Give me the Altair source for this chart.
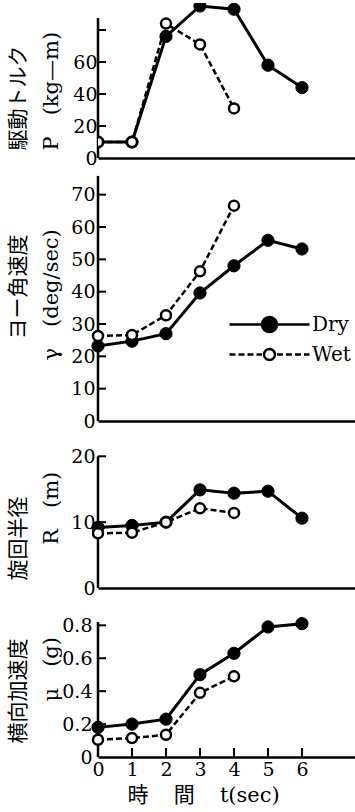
import altair as alt
import pandas as pd

# ---------------- data ----------------
T_DRY = [0, 1, 2, 3, 4, 5, 6]
T_WET = [0, 1, 2, 3, 4]
CONDITIONS = ["Dry", "Wet"]

TORQUE_DRY = [10, 10, 76, 95, 93, 58, 44]
TORQUE_WET = [10, 10, 84, 71, 31]
YAW_DRY = [23.2, 24.7, 27.0, 39.6, 48.0, 55.9, 53.2]
YAW_WET = [26.3, 26.6, 32.7, 46.3, 66.6]
RADIUS_DRY = [9.2, 9.5, 10.0, 14.9, 14.4, 14.7, 10.6]
RADIUS_WET = [8.3, 8.4, 10.0, 12.1, 11.4]
LATACC_DRY = [0.18, 0.20, 0.23, 0.50, 0.63, 0.79, 0.81]
LATACC_WET = [0.105, 0.115, 0.135, 0.39, 0.49]

X_LABELS = [0, 1, 2, 3, 4, 5, 6]
X_TICKS = [1, 2, 3, 4, 5, 6]
TORQUE_LABELS = [0, 20, 40, 60]
TORQUE_TICKS = [20, 40, 60, 80]
YAW_LABELS = [0, 10, 20, 30, 40, 50, 60, 70]
YAW_TICKS = [10, 20, 30, 40, 50, 60, 70]
RADIUS_LABELS = [0, 10, 20]
RADIUS_TICKS = [10, 20]
LATACC_LABELS = [0, 0.2, 0.4, 0.6, 0.8]
LATACC_TICKS = [0.2, 0.4, 0.6, 0.8]

# (a zero-width space keeps the leading em spaces from being trimmed)
ZW = "\u200b"
TORQUE_TITLE = ["駆動トルク", "P\u2003(kg—m)"]
YAW_TITLE = [ZW + "\u2003ヨー角速度", "γ\u2003(deg/sec)"]
RADIUS_TITLE = ["旋回半径", ZW + "\u2003\u2002\u2009R\u2003(m)"]
LATACC_TITLE = ["横向加速度", ZW + "\u2003\u2003μ\u2003(g)"]
X_TITLE = "時\u2003\u2009間\u2003\u2009t(sec)"

# ---------------- styling ----------------
NUM_FONT = "DejaVu Serif"
TITLE_FONT = "DejaVu Serif, Noto Sans CJK JP"
W = 257
X_SCALE = alt.Scale(domain=[0, 7.56], nice=False, zero=False)


def dash_path(a, b, dash=0.6, gap=0.3):
    parts = []
    x = a
    while x < b - 1e-9:
        e = min(x + dash, b)
        parts.append(f"M{x:.2f},0H{e:.2f}")
        x = e + gap
    return "".join(parts)


def circle_path(r):
    return f"M{-r},0A{r},{r},0,1,1,{r},0A{r},{r},0,1,1,{-r},0Z"


DRY_SYMBOL = "M-4.0,0H4.0" + circle_path(0.75)
WET_SYMBOL = dash_path(-4.0, -0.75) + dash_path(0.75, 4.0) + circle_path(0.55)


def panel(dry, wet, *, height, y_max, axis_top, labels, ticks, title, title_y,
          fmt, label_pad=2, bottom=False, clip=False, legend=False):
    ys = alt.Scale(domain=[0, y_max], nice=False, zero=True)
    yaxis = alt.Axis(values=labels, format=fmt, title=title, titleX=-91,
                     titleY=title_y, titleAlign="left", titleBaseline="top",
                     titleAngle=270, titleLineHeight=33, domain=False,
                     ticks=False, tickSize=0, grid=False,
                     labelPadding=label_pad)
    if bottom:
        xaxis = alt.Axis(values=X_LABELS, format="d", title=X_TITLE, titleX=29,
                         titleY=38, titleAlign="left", titleBaseline="middle",
                         titleAngle=0, ticks=False, tickSize=0, labelPadding=3,
                         grid=False, labelFlush=False)
    else:
        xaxis = alt.Axis(labels=False, ticks=False, tickSize=0, title=None,
                         grid=False)

    def xq(f):
        return alt.X(f"{f}:Q", scale=X_SCALE, axis=xaxis)

    def yq(f):
        return alt.Y(f"{f}:Q", scale=ys, axis=yaxis)

    dry_df = pd.DataFrame({"t": T_DRY, "v": dry})
    wet_df = pd.DataFrame({"t": T_WET, "v": wet})
    base_d = alt.Chart(dry_df).encode(x=xq("t"), y=yq("v"))
    base_w = alt.Chart(wet_df).encode(x=xq("t"), y=yq("v"))

    layers = [
        alt.Chart(pd.DataFrame({"lo": [0], "hi": [axis_top]}))
        .mark_rule(color="black", strokeWidth=2.5)
        .encode(x=alt.value(0), y=yq("lo"), y2="hi:Q"),
        alt.Chart(pd.DataFrame({"v": ticks}))
        .mark_rule(color="black", strokeWidth=2)
        .encode(y=yq("v"), x=alt.value(0), x2=alt.value(8)),
    ]
    if bottom:
        layers.append(
            alt.Chart(pd.DataFrame({"t": X_TICKS}))
            .mark_rule(color="black", strokeWidth=2)
            .encode(x=xq("t"), y=alt.value(height), y2=alt.value(height - 9))
        )
    layers += [
        base_d.mark_line(color="black", strokeWidth=3),
        base_w.mark_line(color="black", strokeWidth=2.5, strokeDash=[6, 3]),
        base_d.mark_point(shape="circle", filled=True, fill="black",
                          stroke="black", strokeWidth=1, size=150, opacity=1,
                          clip=clip),
        base_w.mark_point(shape="circle", filled=True, fill="white",
                          stroke="black", strokeWidth=2.5, size=100, opacity=1,
                          clip=clip),
    ]
    if legend:
        leg = alt.Legend(title=None, orient="none", legendX=160, legendY=145,
                         symbolSize=400, symbolStrokeWidth=2.5,
                         labelFont=NUM_FONT, labelFontSize=20,
                         labelColor="black", labelOffset=31, rowPadding=6,
                         padding=0)
        layers.append(
            alt.Chart(pd.DataFrame({"cond": CONDITIONS}))
            .transform_filter("false")
            .mark_point(filled=False, color="black", stroke="black",
                        strokeWidth=2.5, opacity=1)
            .encode(
                fill=alt.Fill("cond:N", scale=alt.Scale(domain=CONDITIONS,
                              range=["black", "white"]), legend=leg),
                shape=alt.Shape("cond:N", scale=alt.Scale(domain=CONDITIONS,
                                range=[DRY_SYMBOL, WET_SYMBOL]), legend=leg),
            )
        )
    return alt.layer(*layers).properties(width=W, height=height)


p1 = panel(TORQUE_DRY, TORQUE_WET, height=155, y_max=96.875, axis_top=87.5,
           labels=TORQUE_LABELS, ticks=TORQUE_TICKS, title=TORQUE_TITLE,
           title_y=147, fmt="d", label_pad=1, clip=True)
p2 = panel(YAW_DRY, YAW_WET, height=253, y_max=78.25, axis_top=75.8,
           labels=YAW_LABELS, ticks=YAW_TICKS, title=YAW_TITLE, title_y=192,
           fmt="d", label_pad=3, legend=True)
p3 = panel(RADIUS_DRY, RADIUS_WET, height=157, y_max=23.84, axis_top=20,
           labels=RADIUS_LABELS, ticks=RADIUS_TICKS, title=RADIUS_TITLE,
           title_y=149, fmt="d", label_pad=3)
p4 = panel(LATACC_DRY, LATACC_WET, height=159, y_max=0.966, axis_top=0.82,
           labels=LATACC_LABELS, ticks=LATACC_TICKS, title=LATACC_TITLE,
           title_y=145, fmt=".1~f", label_pad=6, bottom=True)

chart = (
    alt.vconcat(p1, p2, p3, p4, spacing=10, bounds="flush")
    .resolve_scale(fill="independent", shape="independent")
    .properties(padding={"left": 7, "top": 0, "right": 0, "bottom": 2},
                background="white")
    .configure_view(strokeWidth=0)
    .configure_axis(labelFont=NUM_FONT, labelFontSize=19, labelColor="black",
                    titleFont=TITLE_FONT, titleFontSize=21,
                    titleFontWeight="normal", titleColor="black",
                    domainColor="black", domainWidth=2.5, grid=False)
)

chart.save("out.html", embed_options={"renderer": "svg", "actions": False})
